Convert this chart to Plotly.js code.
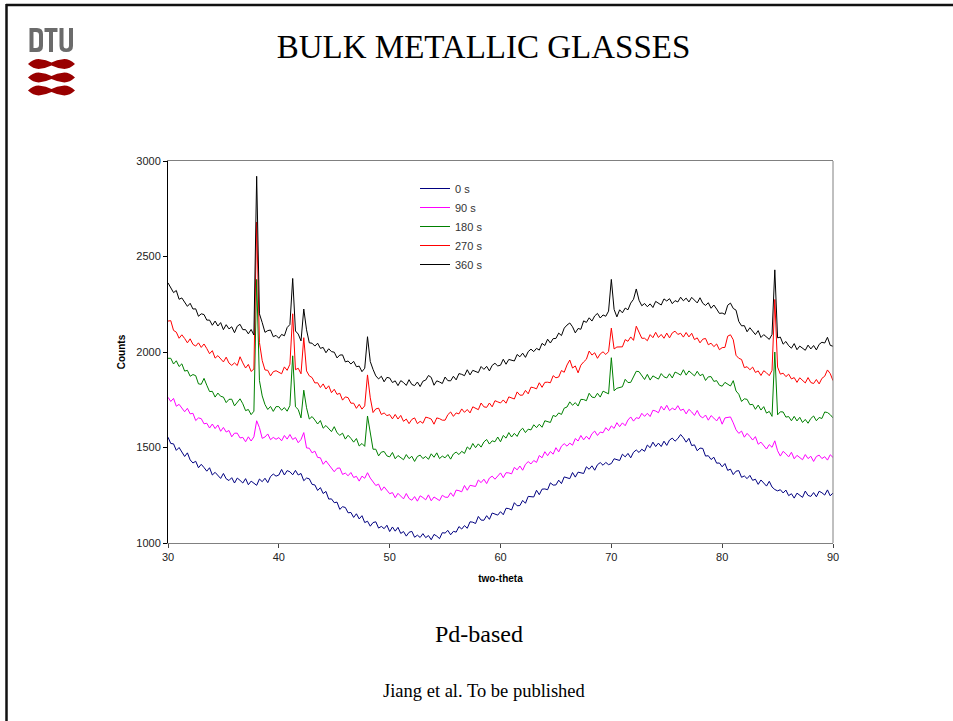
<!DOCTYPE html>
<html>
<head>
<meta charset="utf-8">
<script src="https://cdn.plot.ly/plotly-3.0.1.min.js"></script>
<style>
  html, body { margin: 0; padding: 0; background: #ffffff; }
  #chart { width: 953px; height: 721px; }
</style>
</head>
<body>
<div id="chart"></div>
<script>
// XRD scans of a Pd-based bulk metallic glass after different annealing times.
// Scan: 2-theta from 30 to 90 degrees, 0.25 degree step (241 points per scan).
const scanStart = 30;
const scanStep = 0.25;

const seriesNames = ['0 s', '90 s', '180 s', '270 s', '360 s'];
const seriesColors = ['#000080', '#FF00FF', '#008000', '#FF0000', '#000000'];

const counts0s = [
  1554, 1521, 1519, 1485, 1500, 1479, 1453, 1472, 1435, 1419, 1428, 1394, 1412, 1395, 1376, 1394, 1356, 1370, 1355, 1338,
  1364, 1336, 1327, 1342, 1314, 1340, 1328, 1314, 1337, 1305, 1324, 1314, 1302, 1335, 1321, 1339, 1316, 1348, 1361, 1350,
  1356, 1385, 1356, 1379, 1373, 1357, 1380, 1356, 1364, 1326, 1340, 1336, 1307, 1304, 1275, 1290, 1259, 1270, 1230, 1231,
  1211, 1214, 1176, 1190, 1186, 1158, 1160, 1134, 1153, 1126, 1143, 1107, 1114, 1088, 1107, 1111, 1078, 1087, 1075, 1093,
  1060, 1084, 1062, 1082, 1050, 1060, 1036, 1056, 1061, 1030, 1041, 1029, 1049, 1028, 1039, 1017, 1045, 1036, 1023, 1054,
  1052, 1066, 1043, 1061, 1057, 1086, 1073, 1091, 1077, 1111, 1109, 1102, 1139, 1120, 1119, 1143, 1124, 1157, 1153, 1146,
  1164, 1148, 1182, 1180, 1173, 1211, 1195, 1196, 1223, 1208, 1244, 1244, 1241, 1276, 1253, 1282, 1283, 1279, 1315, 1303,
  1304, 1329, 1311, 1346, 1343, 1337, 1369, 1345, 1371, 1369, 1364, 1399, 1386, 1404, 1381, 1410, 1421, 1407, 1422, 1410,
  1416, 1441, 1438, 1432, 1465, 1451, 1469, 1446, 1475, 1487, 1474, 1491, 1480, 1513, 1499, 1528, 1505, 1523, 1505, 1533,
  1511, 1539, 1549, 1533, 1547, 1568, 1551, 1528, 1548, 1510, 1514, 1483, 1497, 1495, 1455, 1457, 1437, 1449, 1418, 1419,
  1399, 1416, 1380, 1387, 1358, 1376, 1379, 1344, 1351, 1337, 1354, 1328, 1334, 1307, 1330, 1316, 1298, 1323, 1293, 1280,
  1273, 1279, 1262, 1277, 1248, 1258, 1235, 1261, 1251, 1239, 1272, 1249, 1244, 1264, 1242, 1271, 1263, 1251, 1278, 1247,
  1262
];

const counts90s = [
  1763, 1741, 1757, 1716, 1726, 1708, 1687, 1705, 1676, 1679, 1641, 1655, 1651, 1624, 1627, 1602, 1623, 1599, 1618, 1585,
  1605, 1581, 1589, 1556, 1575, 1575, 1550, 1553, 1530, 1556, 1534, 1556, 1640, 1604, 1548, 1555, 1571, 1541, 1553, 1543,
  1552, 1535, 1563, 1544, 1568, 1542, 1552, 1525, 1542, 1578, 1498, 1496, 1472, 1481, 1448, 1446, 1412, 1430, 1411, 1388,
  1373, 1391, 1393, 1359, 1366, 1352, 1369, 1343, 1349, 1324, 1350, 1339, 1368, 1340, 1320, 1301, 1308, 1275, 1294, 1277,
  1258, 1264, 1237, 1260, 1246, 1231, 1259, 1233, 1224, 1243, 1219, 1247, 1238, 1226, 1252, 1221, 1241, 1233, 1222, 1250,
  1240, 1239, 1263, 1244, 1277, 1274, 1268, 1301, 1276, 1302, 1300, 1296, 1330, 1316, 1334, 1311, 1340, 1350, 1334, 1348,
  1367, 1342, 1368, 1367, 1362, 1396, 1383, 1403, 1381, 1412, 1426, 1414, 1432, 1422, 1458, 1446, 1478, 1457, 1479, 1465,
  1499, 1477, 1507, 1520, 1507, 1523, 1512, 1547, 1534, 1563, 1540, 1559, 1543, 1572, 1586, 1563, 1581, 1577, 1604, 1588,
  1613, 1600, 1630, 1609, 1629, 1614, 1644, 1660, 1638, 1656, 1652, 1679, 1663, 1679, 1662, 1695, 1691, 1682, 1716, 1696,
  1721, 1693, 1706, 1697, 1719, 1694, 1701, 1676, 1700, 1686, 1668, 1694, 1665, 1655, 1670, 1643, 1667, 1654, 1639, 1661,
  1622, 1655, 1656, 1660, 1629, 1593, 1574, 1586, 1554, 1574, 1558, 1539, 1557, 1517, 1528, 1512, 1492, 1515, 1501, 1535,
  1483, 1455, 1480, 1467, 1451, 1475, 1441, 1459, 1448, 1436, 1463, 1442, 1454, 1427, 1453, 1460, 1442, 1452, 1434, 1462,
  1448
];

const counts180s = [
  1967, 1967, 1937, 1954, 1924, 1938, 1900, 1904, 1873, 1882, 1876, 1833, 1831, 1862, 1826, 1793, 1794, 1764, 1785, 1768,
  1764, 1735, 1752, 1753, 1718, 1739, 1755, 1729, 1693, 1699, 1672, 1690, 2380, 1850, 1770, 1725, 1699, 1715, 1689, 1714,
  1714, 1695, 1709, 1690, 1720, 1980, 1713, 1699, 1655, 1800, 1708, 1649, 1662, 1644, 1623, 1641, 1601, 1615, 1600, 1583,
  1609, 1577, 1564, 1575, 1544, 1564, 1548, 1528, 1547, 1508, 1521, 1506, 1665, 1575, 1491, 1491, 1456, 1476, 1479, 1456,
  1451, 1474, 1441, 1458, 1448, 1436, 1463, 1442, 1454, 1427, 1453, 1460, 1442, 1453, 1438, 1467, 1449, 1472, 1442, 1455,
  1446, 1463, 1439, 1466, 1476, 1463, 1480, 1469, 1503, 1490, 1521, 1499, 1519, 1502, 1529, 1542, 1518, 1535, 1530, 1555,
  1530, 1563, 1549, 1578, 1555, 1574, 1558, 1587, 1601, 1578, 1596, 1592, 1619, 1604, 1622, 1606, 1640, 1637, 1631, 1668,
  1662, 1681, 1673, 1706, 1712, 1739, 1721, 1735, 1717, 1752, 1751, 1745, 1784, 1764, 1761, 1784, 1764, 1795, 1788, 1781,
  1970, 1797, 1810, 1816, 1818, 1857, 1840, 1841, 1868, 1899, 1897, 1875, 1856, 1883, 1853, 1875, 1868, 1858, 1887, 1870,
  1864, 1886, 1864, 1895, 1888, 1879, 1907, 1879, 1901, 1889, 1875, 1899, 1876, 1884, 1851, 1870, 1871, 1846, 1850, 1826,
  1821, 1841, 1833, 1822, 1850, 1796, 1779, 1741, 1755, 1752, 1724, 1726, 1700, 1722, 1696, 1714, 1680, 1689, 1663, 2000,
  1671, 1687, 1686, 1659, 1662, 1640, 1663, 1639, 1658, 1631, 1647, 1627, 1652, 1665, 1640, 1657, 1652, 1686, 1683, 1672,
  1655
];

const counts270s = [
  2162, 2164, 2113, 2104, 2072, 2090, 2071, 2048, 2069, 2040, 2031, 2048, 2024, 2042, 2018, 1991, 2007, 1968, 1981, 1965,
  1948, 1973, 1942, 1930, 1943, 1929, 1975, 1943, 1916, 1935, 1898, 1911, 2680, 2050, 1955, 1906, 1904, 1875, 1897, 1902,
  1893, 1886, 1922, 1904, 1936, 2200, 1907, 1915, 1886, 2075, 1901, 1875, 1866, 1838, 1839, 1814, 1833, 1806, 1823, 1787,
  1805, 1778, 1784, 1748, 1765, 1761, 1732, 1732, 1705, 1726, 1701, 1718, 1880, 1760, 1683, 1702, 1706, 1673, 1681, 1667,
  1672, 1650, 1673, 1649, 1668, 1637, 1649, 1625, 1647, 1655, 1625, 1637, 1627, 1659, 1655, 1649, 1622, 1655, 1651, 1643,
  1643, 1672, 1686, 1663, 1681, 1676, 1702, 1684, 1699, 1681, 1713, 1707, 1698, 1733, 1713, 1710, 1733, 1713, 1745, 1739,
  1733, 1749, 1732, 1765, 1761, 1754, 1791, 1774, 1774, 1799, 1781, 1816, 1813, 1807, 1839, 1815, 1841, 1842, 1839, 1876,
  1865, 1869, 1903, 1894, 1932, 1958, 1916, 1927, 1891, 1931, 1948, 1962, 2005, 1984, 1996, 1967, 1990, 2001, 1987, 2002,
  2125, 2016, 2026, 2028, 2027, 2065, 2056, 2079, 2061, 2135, 2106, 2072, 2072, 2059, 2091, 2075, 2103, 2076, 2092, 2072,
  2099, 2074, 2100, 2109, 2092, 2098, 2078, 2102, 2079, 2098, 2065, 2074, 2048, 2067, 2071, 2038, 2046, 2028, 2042, 2012,
  2023, 2024, 2083, 2090, 2064, 1983, 1967, 1961, 1918, 1923, 1907, 1921, 1893, 1901, 1877, 1902, 1891, 1876, 1904, 2275,
  1921, 1884, 1889, 1871, 1884, 1859, 1866, 1841, 1865, 1853, 1838, 1866, 1840, 1835, 1856, 1833, 1862, 1873, 1906, 1887,
  1850
];

const counts360s = [
  2362, 2338, 2311, 2322, 2276, 2283, 2263, 2239, 2255, 2225, 2226, 2187, 2200, 2196, 2167, 2167, 2140, 2162, 2136, 2154,
  2117, 2143, 2121, 2132, 2101, 2135, 2145, 2117, 2117, 2095, 2118, 2089, 2920, 2200, 2154, 2103, 2112, 2115, 2080, 2087,
  2072, 2092, 2085, 2128, 2144, 2385, 2110, 2094, 2058, 2225, 2116, 2048, 2046, 2031, 2046, 2019, 2024, 1996, 2017, 2002,
  1999, 1969, 1984, 1985, 1948, 1953, 1937, 1951, 1923, 1926, 1897, 1915, 2080, 1950, 1909, 1875, 1859, 1873, 1844, 1867,
  1864, 1840, 1849, 1824, 1850, 1840, 1825, 1855, 1830, 1824, 1843, 1819, 1847, 1853, 1877, 1867, 1826, 1849, 1843, 1835,
  1869, 1850, 1849, 1873, 1854, 1887, 1883, 1876, 1907, 1880, 1904, 1899, 1892, 1924, 1909, 1925, 1901, 1930, 1941, 1927,
  1931, 1962, 1936, 1961, 1958, 1953, 1987, 1975, 1994, 1972, 2002, 2015, 2002, 2019, 2010, 2045, 2034, 2067, 2047, 2070,
  2071, 2099, 2086, 2125, 2141, 2152, 2132, 2100, 2123, 2119, 2163, 2155, 2179, 2162, 2189, 2202, 2178, 2194, 2187, 2214,
  2380, 2223, 2184, 2221, 2205, 2230, 2221, 2256, 2276, 2330, 2271, 2242, 2254, 2237, 2252, 2233, 2265, 2257, 2246, 2278,
  2267, 2279, 2253, 2269, 2262, 2287, 2268, 2282, 2262, 2286, 2274, 2257, 2284, 2255, 2244, 2258, 2229, 2246, 2225, 2202,
  2204, 2197, 2245, 2256, 2228, 2219, 2160, 2137, 2138, 2106, 2127, 2110, 2091, 2112, 2076, 2091, 2078, 2066, 2092, 2430,
  2074, 2078, 2041, 2055, 2033, 2020, 2044, 2012, 2031, 2022, 2009, 2036, 2016, 2034, 2011, 2040, 2051, 2047, 2077, 2035,
  2030
];

const seriesCounts = [counts0s, counts90s, counts180s, counts270s, counts360s];

// 2-theta positions of the scan points
const twoTheta = counts0s.map((_, i) => scanStart + i * scanStep);

const traces = seriesCounts.map((ys, k) => ({
  type: 'scatter',
  mode: 'lines',
  name: seriesNames[k],
  x: twoTheta,
  y: ys,
  line: { color: seriesColors[k], width: 1 },
  hoverinfo: 'skip'
}));

// Plot-area geometry in pixels, used to place slide decorations in paper units
const W = 953, H = 721;
const PL = 168, PR = 833, PT = 161, PB = 543;
const px = v => (v - PL) / (PR - PL);
const py = v => (PB - v) / (PB - PT);

// Build an SVG path in paper units from pixel coordinates
function P(...a) {
  let out = '';
  let i = 0;
  while (i < a.length) {
    if (typeof a[i] === 'string') { out += a[i]; i += 1; }
    else { out += px(a[i]).toFixed(5) + ',' + py(a[i + 1]).toFixed(5) + ' '; i += 2; }
  }
  return out;
}

const logoGrey = '#6b6b6b';
const logoRed = '#990000';

// Wavy bands of the university logo
function band(y) {
  return P('M', 28, y,
    'Q', 34, y - 5.5, 40, y - 4.8,
    'Q', 46, y - 4.2, 51.5, y - 1.6,
    'Q', 57, y - 4.2, 63, y - 4.8,
    'Q', 69, y - 5.5, 75, y,
    'Q', 69, y + 5.5, 63, y + 4.8,
    'Q', 57, y + 4.2, 51.5, y + 1.6,
    'Q', 46, y + 4.2, 40, y + 4.8,
    'Q', 34, y + 5.5, 28, y, 'Z');
}

const shapes = [
  // slide frame
  { type: 'line', xref: 'paper', yref: 'paper', x0: px(6), x1: px(W + 5), y0: py(5), y1: py(5),
    line: { color: '#111111', width: 2.5 } },
  { type: 'line', xref: 'paper', yref: 'paper', x0: px(6.5), x1: px(6.5), y0: py(4), y1: py(H + 5),
    line: { color: '#111111', width: 2.5 } },
  // right edge of the plot box
  { type: 'line', xref: 'paper', yref: 'paper', x0: 1, x1: 1, y0: 0, y1: 1,
    line: { color: '#808080', width: 1 } },
  // logo letters D, T, U
  { type: 'path', xref: 'paper', yref: 'paper', fillrule: 'evenodd', fillcolor: logoGrey, line: { width: 0 },
    path: P('M', 29.5, 28, 'L', 37, 28, 'Q', 43, 28, 43, 34, 'L', 43, 46, 'Q', 43, 52, 37, 52, 'L', 29.5, 52, 'Z',
            'M', 33.5, 32, 'L', 36, 32, 'Q', 39, 32, 39, 35, 'L', 39, 45, 'Q', 39, 48, 36, 48, 'L', 33.5, 48, 'Z') },
  { type: 'path', xref: 'paper', yref: 'paper', fillcolor: logoGrey, line: { width: 0 },
    path: P('M', 44.5, 28, 'L', 57.5, 28, 'L', 57.5, 32, 'L', 53, 32, 'L', 53, 52, 'L', 49, 52, 'L', 49, 32, 'L', 44.5, 32, 'Z') },
  { type: 'path', xref: 'paper', yref: 'paper', fillcolor: logoGrey, line: { width: 0 },
    path: P('M', 59.5, 28, 'L', 63.5, 28, 'L', 63.5, 45.5, 'Q', 63.5, 48.5, 66.25, 48.5, 'Q', 69, 48.5, 69, 45.5,
            'L', 69, 28, 'L', 73, 28, 'L', 73, 46, 'Q', 73, 52, 66.25, 52, 'Q', 59.5, 52, 59.5, 46, 'Z') },
  { type: 'path', xref: 'paper', yref: 'paper', fillcolor: logoRed, line: { width: 0 }, path: band(64) },
  { type: 'path', xref: 'paper', yref: 'paper', fillcolor: logoRed, line: { width: 0 }, path: band(77.5) },
  { type: 'path', xref: 'paper', yref: 'paper', fillcolor: logoRed, line: { width: 0 }, path: band(90.5) }
];

const serif = 'Liberation Serif, Times New Roman, serif';
const sans = 'Liberation Sans, Arial, sans-serif';

const layout = {
  width: W,
  height: H,
  autosize: false,
  paper_bgcolor: '#ffffff',
  plot_bgcolor: '#ffffff',
  margin: { l: PL, r: W - PR, t: PT, b: H - PB, pad: 0 },
  font: { family: sans, color: '#222222' },
  showlegend: true,
  title: {
    text: 'BULK METALLIC GLASSES',
    font: { family: serif, size: 33, color: '#000000' },
    x: 483.5 / W, xanchor: 'center', xref: 'container',
    y: 1 - 46 / H, yanchor: 'middle', yref: 'container'
  },
  xaxis: {
    range: [30, 90],
    tickvals: [30, 40, 50, 60, 70, 80, 90],
    ticks: 'outside', ticklen: 4, tickwidth: 1, tickcolor: '#444444',
    showline: true, linecolor: '#808080', linewidth: 1, mirror: true,
    showgrid: false, zeroline: false,
    tickfont: { family: sans, size: 11, color: '#222222' },
    title: { text: 'two-theta', font: { family: sans, size: 10, weight: 'bold', color: '#000000' }, standoff: 12 }
  },
  yaxis: {
    range: [1000, 3000],
    tickvals: [1000, 1500, 2000, 2500, 3000],
    ticks: 'outside', ticklen: 4, tickwidth: 1, tickcolor: '#000000',
    showline: true, linecolor: '#000000', linewidth: 1,
    showgrid: false, zeroline: false,
    tickfont: { family: sans, size: 11, color: '#222222' },
    title: { text: 'Counts', font: { family: sans, size: 10, weight: 'bold', color: '#000000' }, standoff: 8 }
  },
  legend: {
    x: px(415), y: py(174), xanchor: 'left', yanchor: 'top',
    bgcolor: 'rgba(0,0,0,0)', borderwidth: 0,
    font: { family: sans, size: 11, color: '#333333' },
    tracegroupgap: 0
  },
  shapes: shapes,
  annotations: [
    { text: 'Pd-based', xref: 'paper', yref: 'paper', x: px(479), y: py(634),
      xanchor: 'center', yanchor: 'middle', showarrow: false,
      font: { family: serif, size: 24, color: '#000000' } },
    { text: 'Jiang et al. To be published', xref: 'paper', yref: 'paper', x: px(484.5), y: py(691),
      xanchor: 'center', yanchor: 'middle', showarrow: false,
      font: { family: serif, size: 18.5, color: '#000000' } }
  ]
};

Plotly.newPlot('chart', traces, layout, { staticPlot: true, displayModeBar: false });
</script>
</body>
</html>
